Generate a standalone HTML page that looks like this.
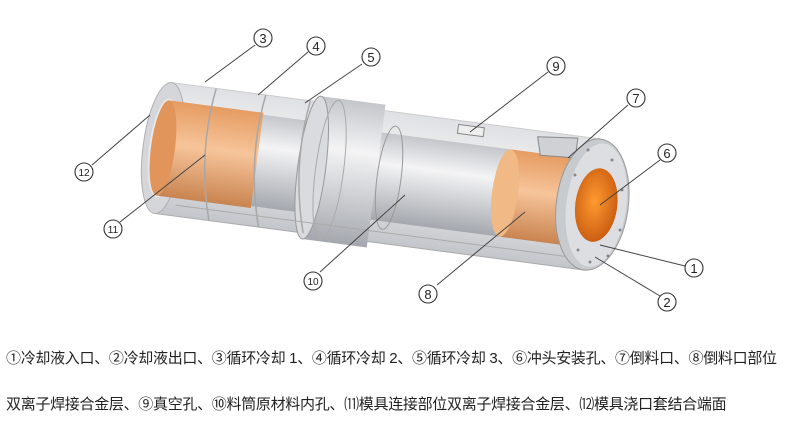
<!DOCTYPE html>
<html><head><meta charset="utf-8"><style>
html,body{margin:0;padding:0;background:#fff;width:800px;height:423px;overflow:hidden}
.t{position:absolute;left:6px;font:15px "Liberation Sans","Noto Sans CJK SC",sans-serif;color:#222;white-space:nowrap;letter-spacing:-0.3px}
</style></head><body>
<svg width="800" height="330" style="position:absolute;left:0;top:0" xmlns="http://www.w3.org/2000/svg">
<defs>
<linearGradient id="g" x1="0" y1="0" x2="0" y2="1">
<stop offset="0" stop-color="#dfe0e3"/><stop offset=".4" stop-color="#f6f6f7"/><stop offset="1" stop-color="#c2c5ca"/></linearGradient>
<linearGradient id="c" x1="0" y1="0" x2="0" y2="1">
<stop offset="0" stop-color="#e59c62"/><stop offset=".45" stop-color="#f7c49a"/><stop offset="1" stop-color="#c98450"/></linearGradient>
<linearGradient id="m" x1="0" y1="0" x2="0" y2="1">
<stop offset="0" stop-color="#c4c6cb"/><stop offset=".35" stop-color="#f4f4f5"/><stop offset="1" stop-color="#a4a8ae"/></linearGradient>
<radialGradient id="o" cx=".45" cy=".45" r=".6"><stop offset="0" stop-color="#ff9a30"/><stop offset="1" stop-color="#c85a10"/></radialGradient>
</defs>
<g transform="translate(163,148) rotate(7.5)">
<rect x="0" y="-66" width="435" height="132" fill="url(#g)"/>
<line x1="0" y1="-66" x2="435" y2="-66" stroke="#ccc"/>
<line x1="0" y1="66" x2="435" y2="66" stroke="#aaa"/>
<ellipse cx="0" cy="0" rx="20" ry="66" fill="#d4d6da" stroke="#b0b0b0"/>
<ellipse cx="0" cy="0" rx="14" ry="50" fill="#e6e7ea"/>
<rect x="0" y="-48" width="95" height="96" fill="url(#c)"/>
<ellipse cx="0" cy="0" rx="12" ry="48" fill="#e2955b"/>
<rect x="95" y="-46" width="60" height="92" fill="url(#m)"/>
<rect x="150" y="-72" width="65" height="144" fill="url(#m)"/>
<ellipse cx="150" cy="0" rx="14" ry="72" fill="#d9dbdf" stroke="#999"/>
<ellipse cx="168" cy="0" rx="14" ry="70" fill="none" stroke="#aaa"/>
<rect x="215" y="-44" width="140" height="88" fill="url(#m)"/>
<ellipse cx="228" cy="0" rx="12" ry="52" fill="none" stroke="#999"/>
<rect x="345" y="-44" width="80" height="88" fill="url(#c)"/>
<ellipse cx="345" cy="0" rx="13" ry="44" fill="#f0b985"/>
<polygon points="370,-60 410,-64 410,-44 375,-42" fill="#cfd1d5" stroke="#888"/>
<rect x="290" y="-62" width="26" height="9" fill="#eee" stroke="#888"/>
<g stroke="#a8a8a8" stroke-width="1.5" fill="none">
<path d="M45,-66 Q35,0 55,66"/><path d="M95,-66 Q85,0 105,66"/><path d="M140,-66 Q130,0 150,66"/>
</g>
<line x1="20" y1="55" x2="420" y2="55" stroke="#aaa"/>
<ellipse cx="433" cy="0" rx="36" ry="66" fill="#c7cace" stroke="#999"/>
<ellipse cx="437" cy="0" rx="30" ry="62" fill="#dcdee2"/>
<ellipse cx="437" cy="0" rx="21" ry="37" fill="url(#o)"/>
</g>
<g fill="#888"><circle cx="588" cy="150" r="1.5"/><circle cx="612" cy="160" r="1.5"/><circle cx="622" cy="190" r="1.5"/><circle cx="620" cy="230" r="1.5"/><circle cx="608" cy="256" r="1.5"/><circle cx="590" cy="262" r="1.5"/><circle cx="578" cy="250" r="1.5"/><circle cx="575" cy="175" r="1.5"/></g>
<g stroke="#444" stroke-width="1">
<line x1="255" y1="45" x2="205" y2="82"/><line x1="308" y1="52" x2="258" y2="95"/><line x1="362" y1="64" x2="305" y2="103"/>
<line x1="548" y1="72" x2="470" y2="132"/><line x1="628" y1="105" x2="568" y2="158"/><line x1="660" y1="160" x2="600" y2="205"/>
<line x1="685" y1="266" x2="600" y2="245"/><line x1="660" y1="296" x2="595" y2="257"/><line x1="437" y1="285" x2="525" y2="212"/>
<line x1="320" y1="272" x2="405" y2="195"/><line x1="120" y1="222" x2="205" y2="155"/><line x1="92" y1="165" x2="150" y2="115"/>
</g>
<g font-family="Liberation Sans,DejaVu Sans,sans-serif" font-size="13" text-anchor="middle" fill="#222">
<g fill="#fff" stroke="#333" stroke-width="1.1">
<circle cx="263" cy="38" r="9"/><circle cx="316" cy="46" r="9"/><circle cx="371" cy="57" r="9"/><circle cx="556" cy="66" r="9"/>
<circle cx="636" cy="98" r="9"/><circle cx="667" cy="153" r="9"/><circle cx="694" cy="268" r="9"/><circle cx="667" cy="302" r="9"/>
<circle cx="428" cy="294" r="9"/><circle cx="313" cy="281" r="9"/><circle cx="113" cy="229" r="9"/><circle cx="84" cy="172" r="9"/></g>
<text x="263" y="43">3</text><text x="316" y="51">4</text><text x="371" y="62">5</text><text x="556" y="71">9</text>
<text x="636" y="103">7</text><text x="667" y="158">6</text><text x="694" y="273">1</text><text x="667" y="307">2</text>
<text x="428" y="299">8</text><text x="313" y="285" font-size="10">10</text><text x="113" y="233" font-size="10">11</text><text x="84" y="176" font-size="10">12</text>
</g>
</svg>
<div class="t" style="top:347px">①冷却液入口、②冷却液出口、③循环冷却 1、④循环冷却 2、⑤循环冷却 3、⑥冲头安装孔、⑦倒料口、⑧倒料口部位</div>
<div class="t" style="top:393px">双离子焊接合金层、⑨真空孔、⑩料筒原材料内孔、⑾模具连接部位双离子焊接合金层、⑿模具浇口套结合端面</div>
</body></html>
